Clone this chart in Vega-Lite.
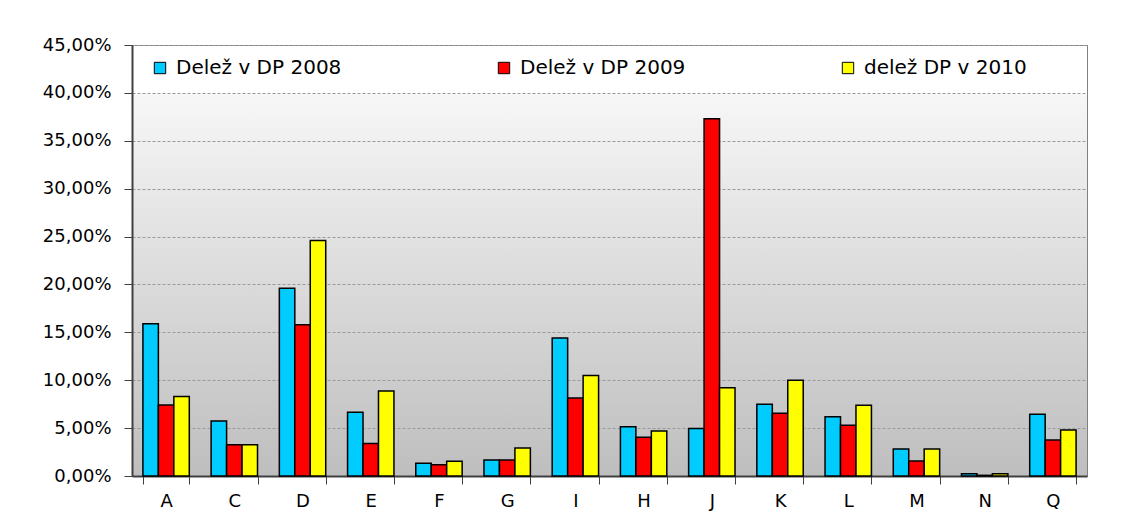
{
  "$schema": "https://vega.github.io/schema/vega-lite/v6.json",
  "width": 955,
  "height": 431,
  "autosize": {"type": "none"},
  "padding": {"left": 132, "top": 45, "right": 38, "bottom": 44},
  "background": "white",
  "data": {
    "values": [
      {"cat": "A", "s": "Delež v DP 2008", "v": 0.159},
      {"cat": "A", "s": "Delež v DP 2009", "v": 0.074},
      {"cat": "A", "s": "delež DP v 2010", "v": 0.083},
      {"cat": "C", "s": "Delež v DP 2008", "v": 0.0574},
      {"cat": "C", "s": "Delež v DP 2009", "v": 0.0327},
      {"cat": "C", "s": "delež DP v 2010", "v": 0.0327},
      {"cat": "D", "s": "Delež v DP 2008", "v": 0.196},
      {"cat": "D", "s": "Delež v DP 2009", "v": 0.158},
      {"cat": "D", "s": "delež DP v 2010", "v": 0.246},
      {"cat": "E", "s": "Delež v DP 2008", "v": 0.0665},
      {"cat": "E", "s": "Delež v DP 2009", "v": 0.034},
      {"cat": "E", "s": "delež DP v 2010", "v": 0.0887},
      {"cat": "F", "s": "Delež v DP 2008", "v": 0.0132},
      {"cat": "F", "s": "Delež v DP 2009", "v": 0.0118},
      {"cat": "F", "s": "delež DP v 2010", "v": 0.0153},
      {"cat": "G", "s": "Delež v DP 2008", "v": 0.0167},
      {"cat": "G", "s": "Delež v DP 2009", "v": 0.0167},
      {"cat": "G", "s": "delež DP v 2010", "v": 0.0292},
      {"cat": "I", "s": "Delež v DP 2008", "v": 0.144},
      {"cat": "I", "s": "Delež v DP 2009", "v": 0.0814},
      {"cat": "I", "s": "delež DP v 2010", "v": 0.105},
      {"cat": "H", "s": "Delež v DP 2008", "v": 0.0515},
      {"cat": "H", "s": "Delež v DP 2009", "v": 0.0404},
      {"cat": "H", "s": "delež DP v 2010", "v": 0.047},
      {"cat": "J", "s": "Delež v DP 2008", "v": 0.0497},
      {"cat": "J", "s": "Delež v DP 2009", "v": 0.373},
      {"cat": "J", "s": "delež DP v 2010", "v": 0.0922},
      {"cat": "K", "s": "Delež v DP 2008", "v": 0.0748},
      {"cat": "K", "s": "Delež v DP 2009", "v": 0.0654},
      {"cat": "K", "s": "delež DP v 2010", "v": 0.100},
      {"cat": "L", "s": "Delež v DP 2008", "v": 0.0619},
      {"cat": "L", "s": "Delež v DP 2009", "v": 0.0529},
      {"cat": "L", "s": "delež DP v 2010", "v": 0.0738},
      {"cat": "M", "s": "Delež v DP 2008", "v": 0.0282},
      {"cat": "M", "s": "Delež v DP 2009", "v": 0.0157},
      {"cat": "M", "s": "delež DP v 2010", "v": 0.0282},
      {"cat": "N", "s": "Delež v DP 2008", "v": 0.0024},
      {"cat": "N", "s": "Delež v DP 2009", "v": 0.0007},
      {"cat": "N", "s": "delež DP v 2010", "v": 0.0024},
      {"cat": "Q", "s": "Delež v DP 2008", "v": 0.0644},
      {"cat": "Q", "s": "Delež v DP 2009", "v": 0.0376},
      {"cat": "Q", "s": "delež DP v 2010", "v": 0.048}
    ]
  },
  "mark": {"type": "bar", "stroke": "black", "strokeWidth": 1.5},
  "encoding": {
    "x": {
      "field": "cat",
      "type": "nominal",
      "sort": ["A", "C", "D", "E", "F", "G", "I", "H", "J", "K", "L", "M", "N", "Q"],
      "scale": {"paddingInner": 0.32, "paddingOuter": 0.16},
      "axis": {
        "title": null,
        "labelAngle": 0,
        "labelFont": "DejaVu Sans",
        "labelFontSize": 18,
        "labelColor": "black",
        "labelPadding": 8,
        "tickBand": "extent",
        "tickSize": 8,
        "tickColor": "#404040",
        "domainColor": "#404040",
        "domainWidth": 2,
        "grid": false
      }
    },
    "xOffset": {
      "field": "s",
      "type": "nominal",
      "sort": ["Delež v DP 2008", "Delež v DP 2009", "delež DP v 2010"],
      "scale": {"paddingInner": 0, "paddingOuter": 0}
    },
    "y": {
      "field": "v",
      "type": "quantitative",
      "scale": {"domain": [0, 0.45], "nice": false},
      "axis": {
        "title": null,
        "format": ".2%",
        "values": [0, 0.05, 0.1, 0.15, 0.2, 0.25, 0.3, 0.35, 0.4, 0.45],
        "labelFont": "DejaVu Sans",
        "labelFontSize": 18,
        "labelColor": "black",
        "labelPadding": 13,
        "tickSize": 8,
        "tickColor": "#404040",
        "domainColor": "#404040",
        "domainWidth": 2,
        "grid": true,
        "gridColor": "#9a9a9a",
        "gridDash": [3, 2],
        "gridWidth": 1
      }
    },
    "color": {
      "field": "s",
      "type": "nominal",
      "sort": ["Delež v DP 2008", "Delež v DP 2009", "delež DP v 2010"],
      "scale": {"range": ["#00CCFF", "#FF0000", "#FFFF00"]},
      "legend": {
        "title": null,
        "orient": "none",
        "legendX": 18,
        "legendY": 13,
        "direction": "horizontal",
        "columns": 3,
        "columnPadding": 152,
        "symbolType": "square",
        "symbolSize": 130,
        "symbolStrokeColor": "black",
        "symbolStrokeWidth": 1,
        "symbolOpacity": 1,
        "labelFont": "DejaVu Sans",
        "labelFontSize": 20,
        "labelLimit": 400,
        "labelColor": "black",
        "labelOffset": 6
      }
    }
  },
  "config": {
    "locale": {"number": {"decimal": ",", "thousands": ".", "grouping": [3], "currency": ["", " €"]}},
    "view": {
      "stroke": "#808080",
      "strokeWidth": 1,
      "fill": {
        "gradient": "linear",
        "x1": 0, "y1": 0, "x2": 0, "y2": 1,
        "stops": [
          {"offset": 0, "color": "#ffffff"},
          {"offset": 0.111, "color": "#ffffff"},
          {"offset": 0.112, "color": "#f7f7f7"},
          {"offset": 1, "color": "#bebebe"}
        ]
      }
    }
  }
}
